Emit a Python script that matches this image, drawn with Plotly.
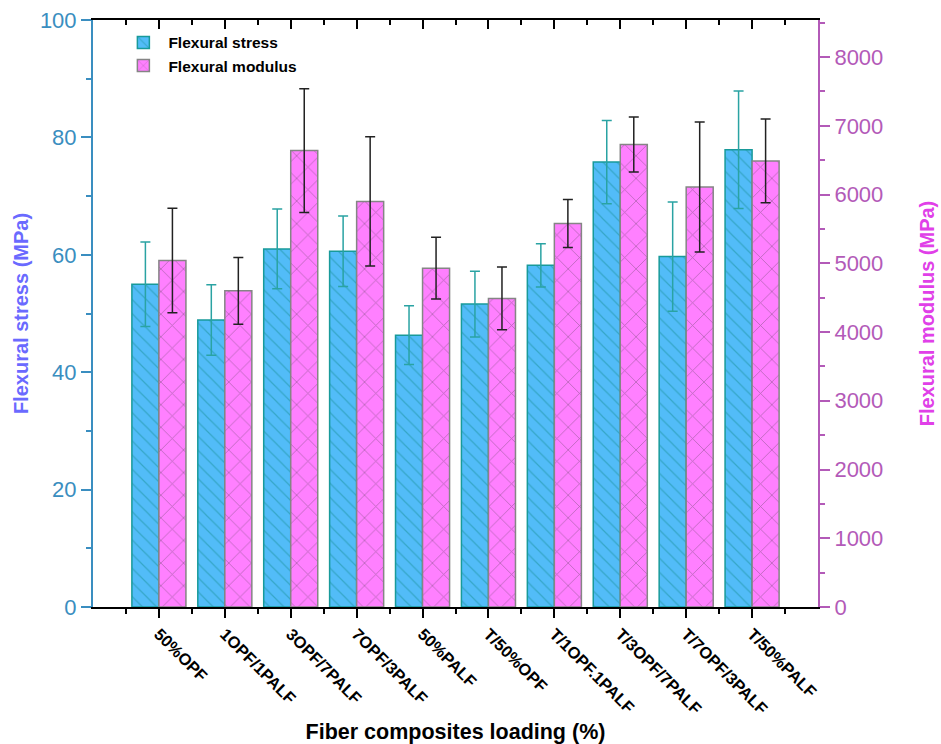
import plotly.graph_objects as go

categories = ["50%OPF", "1OPF/1PALF", "3OPF/7PALF", "7OPF/3PALF", "50%PALF",
              "T/50%OPF", "T/1OPF.1PALF", "T/3OPF/7PALF", "T/7OPF/3PALF", "T/50%PALF"]
stress = [55.0, 48.9, 61.0, 60.6, 46.3, 51.6, 58.2, 75.8, 59.7, 77.9]
stress_err = [7.2, 6.0, 6.8, 6.0, 5.0, 5.6, 3.7, 7.1, 9.3, 10.0]
modulus = [5040, 4600, 6640, 5900, 4930, 4490, 5580, 6730, 6110, 6490]
modulus_err = [760, 485, 900, 940, 450, 456, 350, 400, 945, 610]

pos = list(range(1, len(categories) + 1))
FONT = "Arial, Liberation Sans, sans-serif"
LEFT_C = "#3a8ec0"
RIGHT_C = "#b35ab8"

fig = go.Figure()
fig.add_trace(go.Bar(
    x=pos, y=stress, name="<b>Flexural stress</b>", yaxis="y",
    width=0.41, offset=-0.41,
    marker=dict(color="#52bcf8", line=dict(color="#189a9a", width=1.5),
                pattern=dict(shape="\\", fgcolor="#178f95", bgcolor="#52bcf8",
                             size=10, solidity=0.12)),
    error_y=dict(type="data", array=stress_err, color="#2aa3a3", thickness=1.5, width=5),
))
fig.add_trace(go.Bar(
    x=pos, y=modulus, name="<b>Flexural modulus</b>", yaxis="y2",
    width=0.41, offset=0,
    marker=dict(color="#ff80ff", line=dict(color="#858585", width=1.5),
                pattern=dict(shape="x", fgcolor="#6e4a6e", bgcolor="#ff80ff",
                             size=16, solidity=0.1)),
    error_y=dict(type="data", array=modulus_err, color="#222222", thickness=1.5, width=5),
))

minor_vals = [p - 0.5 for p in pos] + [pos[-1] + 0.5]

fig.update_layout(
    width=941, height=744,
    margin=dict(l=93, r=123, t=20, b=137),
    paper_bgcolor="white", plot_bgcolor="white",
    font=dict(family=FONT, color="black"),
    showlegend=True,
    legend=dict(x=0.035, y=0.99, xanchor="left", yanchor="top",
                bgcolor="rgba(0,0,0,0)", font=dict(size=15.5, family=FONT, color="black"),
                tracegroupgap=0, itemwidth=40),
    xaxis=dict(
        range=[0, 11], tickmode="array", tickvals=pos, automargin=False,
        ticktext=["<b>%s</b>" % c for c in categories],
        tickangle=45, tickfont=dict(size=16.5, color="black"),
        showline=True, linecolor="black", linewidth=2,
        ticks="outside", ticklen=9, tickwidth=2, tickcolor="black",
        minor=dict(tickmode="array", tickvals=minor_vals,
                   ticks="outside", ticklen=5, tickwidth=1.5, tickcolor="black"),
        showgrid=False, zeroline=False,
        title=dict(text="<b>Fiber composites loading (%)</b>", font=dict(size=21.5, color="black"),
                   standoff=14),
    ),
    xaxis2=dict(
        range=[0, 11], overlaying="x", side="top", matches="x", automargin=False,
        tickmode="array", tickvals=pos, showticklabels=False,
        showline=True, linecolor="black", linewidth=2,
        ticks="inside", ticklen=9, tickwidth=2, tickcolor="black",
        minor=dict(tickmode="array", tickvals=minor_vals,
                   ticks="inside", ticklen=5, tickwidth=1.5, tickcolor="black"),
        showgrid=False, zeroline=False,
    ),
    yaxis=dict(
        range=[0, 100], tickmode="linear", tick0=0, dtick=20, automargin=False,
        tickfont=dict(size=22, color=LEFT_C),
        showline=True, linecolor=LEFT_C, linewidth=2,
        ticks="outside", ticklen=10, tickwidth=1.5, tickcolor=LEFT_C,
        minor=dict(dtick=10, ticks="outside", ticklen=5, tickwidth=1.5, tickcolor=LEFT_C),
        showgrid=False, zeroline=False,
        title=dict(text="<b>Flexural stress (MPa)</b>", font=dict(size=20, color="#6a6aff"),
                   standoff=6),
    ),
    yaxis2=dict(
        range=[0, 8540], overlaying="y", side="right", anchor="x", automargin=False,
        tickmode="linear", tick0=0, dtick=1000,
        tickfont=dict(size=22, color=RIGHT_C),
        showline=True, linecolor=RIGHT_C, linewidth=2,
        ticks="outside", ticklen=10, tickwidth=1.5, tickcolor=RIGHT_C,
        minor=dict(dtick=500, ticks="outside", ticklen=5, tickwidth=1.5, tickcolor=RIGHT_C),
        showgrid=False, zeroline=False,
        title=dict(text="<b>Flexural modulus (MPa)</b>", font=dict(size=20, color="#e040e8"),
                   standoff=38),
    ),
)
fig.add_trace(go.Scatter(x=[None], y=[None], xaxis="x2", showlegend=False, hoverinfo="skip"))

fig.write_html("out.html")
